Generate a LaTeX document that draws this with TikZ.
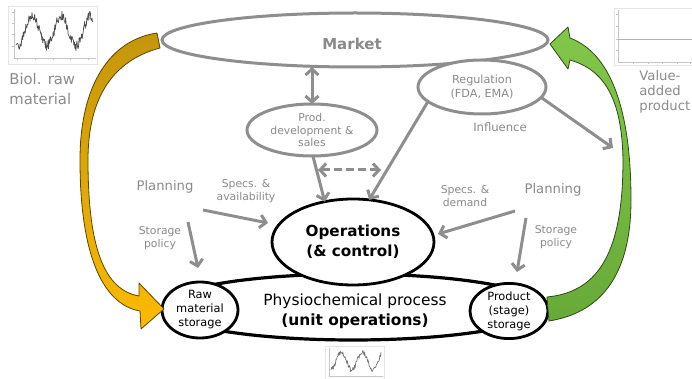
\documentclass[tikz,border=0pt]{standalone}
\usepackage{fontspec}
\setmainfont{DejaVu Sans}
\usetikzlibrary{shapes.geometric,arrows.meta}
\definecolor{txtgray}{HTML}{8A8A8A}
\definecolor{linegray}{HTML}{8E8E8E}
\definecolor{orTop}{HTML}{C4960C}
\definecolor{orBot}{HTML}{FCBA00}
\definecolor{orEdge}{HTML}{5A4600}
\definecolor{grTop}{HTML}{82C74A}
\definecolor{grBot}{HTML}{68AA38}
\definecolor{grEdge}{HTML}{2E4A14}
\newcommand{\fs}[2]{\fontsize{#1}{#2}\selectfont}
\begin{document}
\begin{tikzpicture}[x=0.5pt,y=-0.5pt,
  grayoval/.style={ellipse, draw=linegray, line width=1.5pt, fill=white,
    inner sep=0pt, outer sep=0pt, text=txtgray, align=center},
  blackoval/.style={ellipse, draw=black, line width=1.4pt, fill=white,
    inner sep=0pt, outer sep=0pt, text=black, align=center},
  lbl/.style={text=txtgray, align=center, inner sep=0pt, font=\fs{6.6}{8}},
  sm/.style={text=txtgray, align=center, inner sep=0pt, font=\fs{5.4}{6.2}},
  arr/.style={draw=linegray, line width=1.5pt, -{Straight Barb[length=3pt,width=6.5pt]}},
  arrtwo/.style={draw=linegray, line width=1.5pt,
    {Straight Barb[length=3pt,width=6.5pt]}-{Straight Barb[length=3pt,width=6.5pt]}},
  axis/.style={draw=gray!45, line width=0.3pt},
  series/.style={draw=black!70, line width=0.35pt, line join=round}]
\useasboundingbox (0,0) rectangle (692,379);

% ---------- market and its neighbours ----------
\node[grayoval, minimum width=193pt, minimum height=27pt] (market) at (355,40) {};
\node[text=txtgray, font=\bfseries\fs{7.5}{9}] (marketlbl) at (352,44) {Market};
\node[grayoval, minimum width=64pt, minimum height=27pt, font=\fs{5.6}{6.6}] (reg) at (482,87) {Regulation\\(FDA, EMA)};
\node[text=txtgray, font=\fs{5.8}{7}, inner sep=0pt] (infl) at (500,127) {Influence};
\node[grayoval, minimum width=65pt, minimum height=26pt, font=\fs{5.4}{6.4}] (prod) at (312,130) {Prod.\\development \&\\sales};

% ---------- process core ----------
\node[blackoval, line width=1.6pt, minimum width=190pt, minimum height=33pt] (proc) at (353,307) {};
\node[blackoval, minimum width=81pt, minimum height=43pt, font=\bfseries\fs{7.6}{10}] (ops) at (353,242) {Operations\\(\& control)};
\node[align=center, inner sep=0pt, font=\fs{7.7}{10}] (proclbl) at (355,311) {Physiochemical process\\\textbf{(unit operations)}};
\node[blackoval, minimum width=38pt, minimum height=28pt, font=\fs{5.7}{7}] (raw) at (200,310) {Raw\\material\\storage};
\node[blackoval, minimum width=39pt, minimum height=27pt, font=\fs{5.7}{7}] (prodst) at (509,311) {Product\\(stage)\\storage};

% ---------- flows between the boxes ----------
\draw[arrtwo] (prod.north |- market.south) -- (prod.north);
\coordinate (dashL) at (318,170);
\coordinate (dashR) at (381,170);
\draw[arrtwo, dashed, dash pattern=on 4pt off 2pt] (dashL) -- (dashR);
\draw[arr] (prod.272) -- (ops.125);
\draw[arr] (reg.195) -- (ops.69);
\coordinate (inflEnd) at (613,148);
\draw[arr] (reg.350) -- (inflEnd);

% ---------- planning, left ----------
\node[lbl] (planL) at (165,187) {Planning};
\node[sm] (specL) at (246,191) {Specs. \&\\availability};
\node[sm] (storL) at (160,238) {Storage\\policy};
\coordinate (specLa) at (203,210);
\coordinate (specLb) at (268,223);
\coordinate (storLa) at (188,222);
\coordinate (storLb) at (198,268);
\draw[arr] (specLa) -- (specLb);
\draw[arr] (storLa) -- (storLb);

% ---------- planning, right ----------
\node[lbl] (planR) at (553,190) {Planning};
\node[sm] (specR) at (465,196) {Specs. \&\\demand};
\node[sm] (storR) at (556,237) {Storage\\policy};
\coordinate (specRa) at (515,211);
\coordinate (specRb) at (438,234);
\coordinate (storRa) at (526,218);
\coordinate (storRb) at (517,272);
\draw[arr] (specRa) -- (specRb);
\draw[arr] (storRa) -- (storRb);

% ---------- supply arrow (raw material in) ----------
\shadedraw[top color=orTop, bottom color=orBot, draw=orEdge, line width=0.4pt, line join=round]
  (157,33) .. controls (110,40) and (80,85) .. (80,160)
  .. controls (80,260) and (105,305) .. (140,311)
  -- (141,329) -- (164,309) -- (139,283) -- (139,296)
  .. controls (105,290) and (88,250) .. (88,160)
  .. controls (88,95) and (115,60) .. (160,48) -- cycle;

% ---------- delivery arrow (product out) ----------
\shadedraw[top color=grTop, bottom color=grBot, draw=grEdge, line width=0.4pt, line join=round]
  (547,297) .. controls (600,292) and (623,250) .. (623,160)
  .. controls (622,100) and (605,70) .. (570,60)
  -- (568,69) -- (550,44) -- (568,27) -- (570,38)
  .. controls (615,55) and (631,120) .. (631,200)
  .. controls (631,270) and (605,312) .. (549,321) -- cycle;

% ---------- side labels ----------
\node[text=txtgray, align=left, anchor=west, inner sep=0pt, font=\fs{7.4}{10}] (biol) at (9,89) {Biol. raw\\material};
\node[text=txtgray, align=left, anchor=west, inner sep=0pt, font=\fs{6.6}{7.5}] (value) at (639,92) {Value-\\added\\product};

% ---------- raw material record ----------
\draw[gray!20, line width=0.3pt] (8,6) rectangle (97,64);
\draw[axis] (14,9) -- (14,58) -- (96,58);
\foreach \ty in {12,23,34,46} \draw[axis] (12,\ty) -- (14,\ty);
\foreach \tx in {17,35,53,70,88} \draw[axis] (\tx,58) -- (\tx,60);
\pgfmathsetseed{11}
\draw[series] plot[domain=16:93, samples=150] (\x, {31-15*sin((\x-25)*12.4)+5*rand});

% ---------- product record ----------
\draw[gray!20, line width=0.3pt] (614,8) rectangle (692,65);
\draw[axis] (618,10) -- (618,62) -- (692,62);
\foreach \ty in {14,26,39,50} \draw[axis] (616,\ty) -- (618,\ty);
\foreach \tx in {633,648,662,677,690} \draw[axis] (\tx,62) -- (\tx,64);
\draw[draw=gray!60, line width=0.4pt] (618,39) -- (692,39);

% ---------- process record ----------
\draw[gray!20, line width=0.3pt] (325,346) rectangle (384,379);
\draw[axis] (329,348) -- (329,376) -- (383,376);
\pgfmathsetseed{5}
\draw[series, draw=black!55] plot[domain=331:381, samples=90] (\x, {361-9*sin((\x-336)*17.1)+2.5*rand});
\end{tikzpicture}
\end{document}
